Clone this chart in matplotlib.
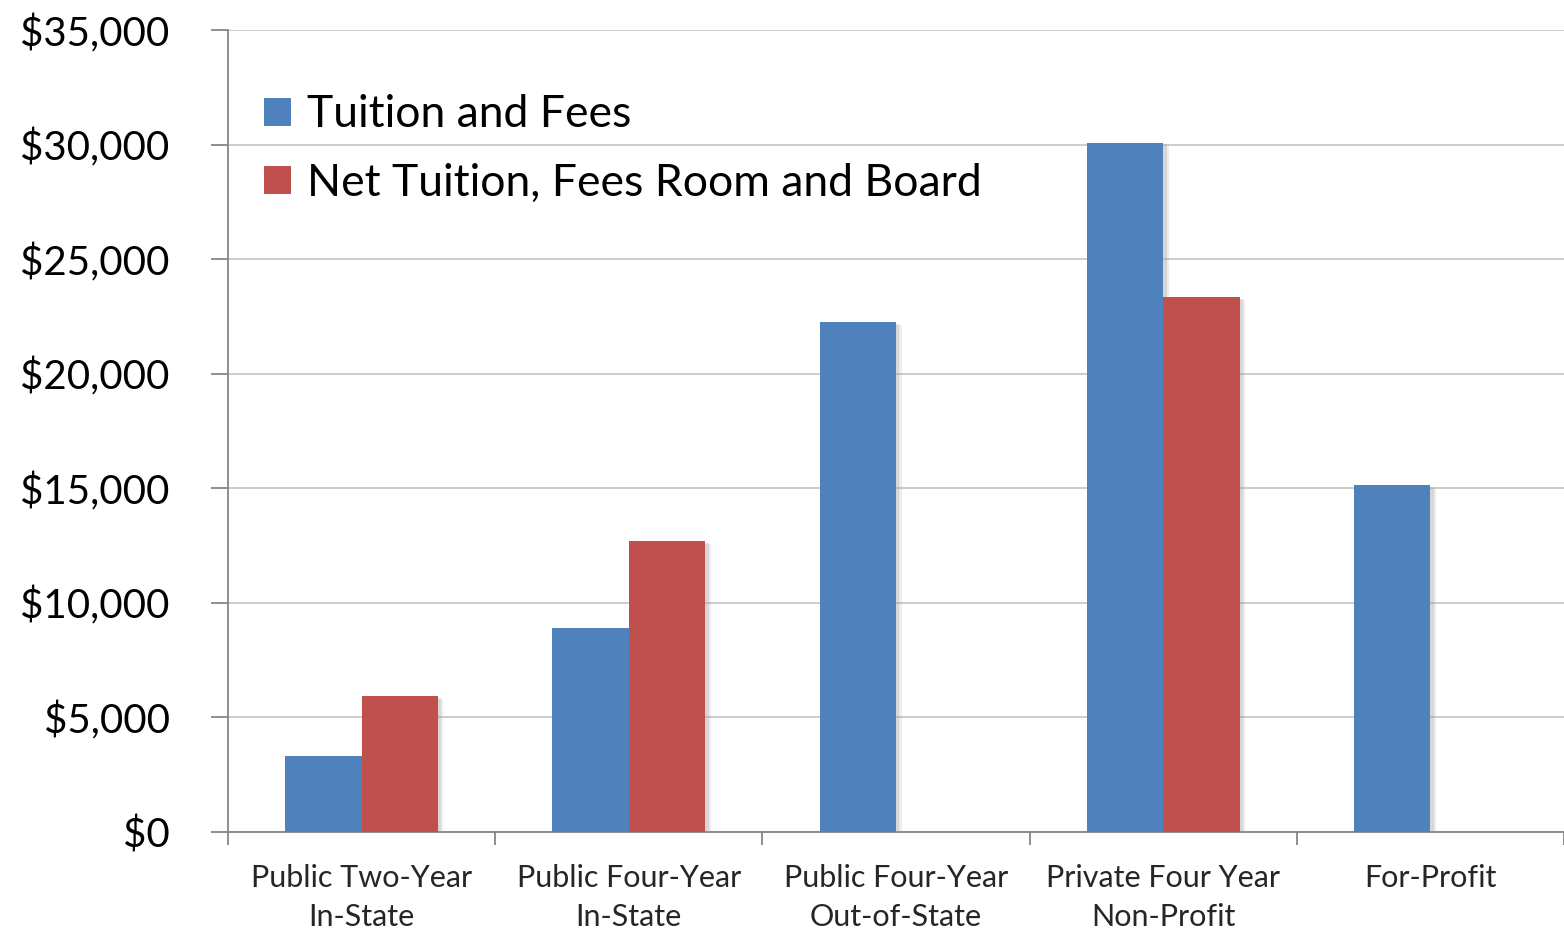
import numpy as np
import matplotlib
matplotlib.use("Agg")
import matplotlib.pyplot as plt
import matplotlib.patheffects as pe
from matplotlib.ticker import FuncFormatter

plt.rcParams['font.family'] = ['Lato', 'DejaVu Sans']

categories = ["Public Two-Year\nIn-State", "Public Four-Year\nIn-State",
              "Public Four-Year\nOut-of-State", "Private Four Year\nNon-Profit",
              "For-Profit"]
tuition_fees = [3320, 8900, 22260, 30090, 15140]
# no value shown for out-of-state and for-profit
net_tuition_room_board = [5940, 12700, np.nan, 23350, np.nan]
series_names = ["Tuition and Fees", "Net Tuition, Fees Room and Board"]

blue = "#4F81BD"
red = "#C0504D"
axis_grey = "#868686"

fig = plt.figure(figsize=(15.64, 9.34), dpi=100)
ax = fig.add_axes([228 / 1564, 1 - 832 / 934, 1 - 228 / 1564, (832 - 30) / 934])

x = np.arange(len(categories))
w = 1 / 3.5  # gap width 150%

b1 = ax.bar(x - w / 2, tuition_fees, w, color=blue, label=series_names[0], zorder=3)
b2 = ax.bar(x + w / 2, net_tuition_room_board, w, color=red, label=series_names[1], zorder=3)

ax.legend(loc="upper left", bbox_to_anchor=(0.014, 0.942), frameon=False, fontsize=32,
          handlelength=0.6, handleheight=0.6, handletextpad=0.35, labelspacing=0.62,
          borderaxespad=0)

# soft shadow to the lower right of each bar (legend keys stay flat)
shadow = [pe.SimplePatchShadow(offset=(4, -2), shadow_rgbFace="#9a9a9a", alpha=0.18),
          pe.SimplePatchShadow(offset=(2.5, -1.2), shadow_rgbFace="#9a9a9a", alpha=0.25),
          pe.Normal()]
for b in list(b1) + list(b2):
    b.set_path_effects(shadow)

ax.set_xlim(-0.5, len(categories) - 0.5)
ax.set_ylim(0, 35000)
ax.set_yticks(np.arange(0, 35001, 5000))
ax.yaxis.set_major_formatter(FuncFormatter(lambda v, p: "${:,.0f}".format(v)))
ax.grid(axis="y", color="#C8C8C8", linewidth=1.3, zorder=0)
ax.set_axisbelow(True)

ax.set_xticks(x)
ax.set_xticklabels(categories, fontsize=22, color="#262626", linespacing=1.5)
ax.set_xticks(np.arange(-0.5, len(categories), 1), minor=True)
ax.tick_params(axis="x", which="major", length=0, pad=23)
ax.tick_params(axis="x", which="minor", length=9, color=axis_grey, width=1.3)
ax.tick_params(axis="y", length=12, color=axis_grey, width=1.3, labelsize=29, pad=30)

for s in ["top", "right"]:
    ax.spines[s].set_visible(False)
for s in ["left", "bottom"]:
    ax.spines[s].set_color(axis_grey)
    ax.spines[s].set_linewidth(1.3)

fig.savefig("out.png", dpi=100)
